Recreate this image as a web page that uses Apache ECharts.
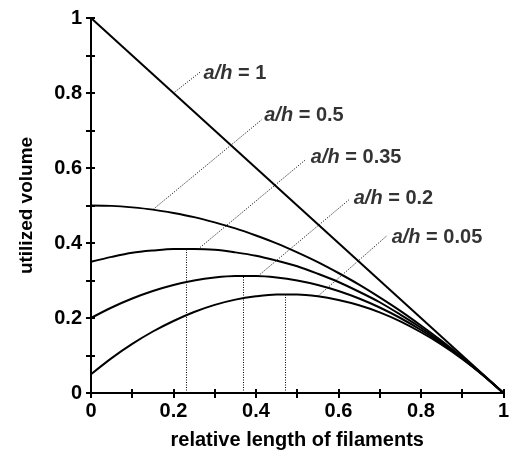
<!DOCTYPE html>
<html>
<head>
<meta charset="utf-8">
<script src="https://cdn.jsdelivr.net/npm/echarts@6/dist/echarts.min.js"></script>
<style>
html,body{margin:0;padding:0;background:#fff;}
#c{width:512px;height:456px;}
</style>
</head>
<body>
<div id="c"></div>
<script>
// ---- data ----
const xValues   = [0, 0.05, 0.1, 0.15, 0.2, 0.25, 0.3, 0.35, 0.4, 0.45, 0.5, 0.55, 0.6, 0.65, 0.7, 0.75, 0.8, 0.85, 0.9, 0.95, 1];
const curveA050 = [0.5, 0.499, 0.495, 0.489, 0.48, 0.469, 0.455, 0.439, 0.42, 0.399, 0.375, 0.349, 0.32, 0.289, 0.255, 0.219, 0.18, 0.139, 0.095, 0.049, 0];
const curveA035 = [0.35, 0.363, 0.374, 0.38, 0.384, 0.384, 0.382, 0.375, 0.366, 0.353, 0.338, 0.318, 0.296, 0.27, 0.242, 0.209, 0.174, 0.135, 0.094, 0.048, 0];
const curveA020 = [0.2, 0.228, 0.252, 0.272, 0.288, 0.3, 0.308, 0.312, 0.312, 0.308, 0.3, 0.288, 0.272, 0.252, 0.228, 0.2, 0.168, 0.132, 0.092, 0.048, 0];
const curveA005 = [0.05, 0.093, 0.131, 0.164, 0.192, 0.216, 0.235, 0.249, 0.258, 0.263, 0.263, 0.258, 0.248, 0.234, 0.215, 0.191, 0.162, 0.129, 0.091, 0.048, 0];
const lineA1X   = [0, 1];
const lineA1Y   = [1, 0];
const peakX     = [0.23, 0.37, 0.47];
const peakY     = [0.385, 0.312, 0.264];
const labelTexts = ['1', '0.5', '0.35', '0.2', '0.05'];
const xTickLabels = ['0', '0.2', '0.4', '0.6', '0.8', '1'];
const yTickLabels = ['0', '0.2', '0.4', '0.6', '0.8', '1'];

// annotation placement (data coords)
const labelPos = [[0.273, 0.853], [0.42, 0.739], [0.533, 0.629], [0.637, 0.52], [0.729, 0.416]];
const leaderStart = [[0.2, 0.8], [0.15, 0.489], [0.26, 0.384], [0.405, 0.312], [0.55, 0.258]];
const leaderEnd = [[0.265, 0.856], [0.413, 0.728], [0.519, 0.621], [0.625, 0.515], [0.717, 0.419]];

const FONT = 'Liberation Sans, Arial, sans-serif';
const FS = 20;
const FW = 'bold';

function pairs(xs, ys) { return xs.map((x, i) => [x, ys[i]]); }
function fmt(list) {
  return function (v) {
    const s = String(Math.round(v * 10) / 10);
    return list.indexOf(s) >= 0 ? s : '';
  };
}

const solid = { color: '#000', width: 2 };
const dotted = { color: '#000', width: 1, type: [1, 1.5] };

const markLines = [];
for (let i = 0; i < peakX.length; i++) {
  markLines.push([{ coord: [peakX[i], 0] }, { coord: [peakX[i], peakY[i]] }]);
}
for (let i = 0; i < leaderStart.length; i++) {
  markLines.push([{ coord: leaderStart[i] }, { coord: leaderEnd[i] }]);
}

const axisCommon = {
  type: 'value', min: 0, max: 1, interval: 0.1,
  axisLine: { lineStyle: { color: '#000', width: 2 } },
  splitLine: { show: false }
};
const textBase = { color: '#000', fontSize: FS, fontFamily: FONT, fontWeight: FW };

const option = {
  animation: false,
  grid: { left: 91, right: 6, top: 18, bottom: 63, containLabel: false },
  xAxis: [
    Object.assign({}, axisCommon, {
      position: 'bottom',
      axisTick: { length: 5, lineStyle: { color: '#000', width: 2 } },
      axisLabel: Object.assign({ formatter: fmt(xTickLabels), margin: 8, showMinLabel: true, showMaxLabel: true }, textBase),
      name: 'relative length of filaments', nameLocation: 'middle', nameGap: 37,
      nameTextStyle: textBase
    }),
    Object.assign({}, axisCommon, {
      position: 'bottom',
      axisTick: { inside: true, length: 4, lineStyle: { color: '#000', width: 2 } },
      axisLabel: { show: false }
    })
  ],
  yAxis: [
    Object.assign({}, axisCommon, {
      position: 'left',
      axisTick: { length: 5, lineStyle: { color: '#000', width: 2 } },
      axisLabel: Object.assign({ formatter: fmt(yTickLabels), margin: 9 }, textBase),
      name: 'utilized volume', nameLocation: 'middle', nameGap: 55,
      nameTextStyle: Object.assign({}, textBase, { fontSize: 19 })
    }),
    Object.assign({}, axisCommon, {
      position: 'left',
      axisTick: { inside: true, length: 4, lineStyle: { color: '#000', width: 2 } },
      axisLabel: { show: false }
    })
  ],
  series: [
    { type: 'line', data: pairs(lineA1X, lineA1Y), showSymbol: false, lineStyle: solid, z: 3,
      markLine: { silent: true, symbol: ['none', 'none'], label: { show: false }, lineStyle: dotted, data: markLines } },
    { type: 'line', data: pairs(xValues, curveA050), smooth: 0.3, showSymbol: false, lineStyle: solid, z: 3 },
    { type: 'line', data: pairs(xValues, curveA035), smooth: 0.3, showSymbol: false, lineStyle: solid, z: 3 },
    { type: 'line', data: pairs(xValues, curveA020), smooth: 0.3, showSymbol: false, lineStyle: solid, z: 3 },
    { type: 'line', data: pairs(xValues, curveA005), smooth: 0.3, showSymbol: false, lineStyle: solid, z: 3 },
    { type: 'scatter', symbolSize: 0, z: 4,
      data: labelTexts.map((t, i) => ({ value: labelPos[i], name: t })),
      label: Object.assign({
        show: true, position: 'right', distance: 0,
        formatter: p => '{i|a/h} = ' + p.name,
        rich: { i: Object.assign({}, textBase, { fontStyle: 'italic' }) }
      }, textBase)
    }
  ]
};

const chart = echarts.init(document.getElementById('c'), null, { renderer: 'canvas' });
chart.setOption(option);
</script>
</body>
</html>
